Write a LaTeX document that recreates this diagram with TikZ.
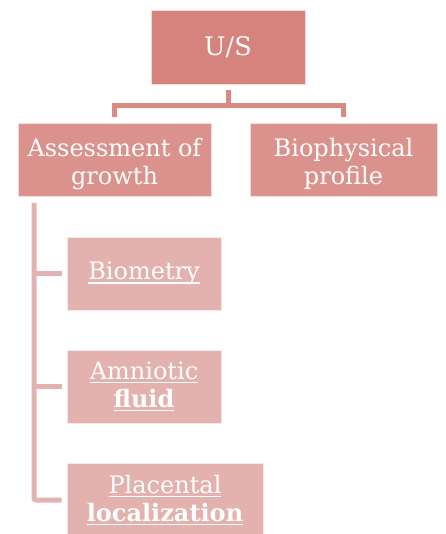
\documentclass[tikz,border=0pt]{standalone}
\usepackage{fontspec}
\setmainfont{DejaVu Serif}
\usetikzlibrary{calc}
\definecolor{topc}{HTML}{D5837C}
\definecolor{midc}{HTML}{DB928C}
\definecolor{lowc}{HTML}{E4B2AE}
\definecolor{conna}{HTML}{D98A84}
\definecolor{connb}{HTML}{E2B3B0}
\newcommand\myul[1]{\setbox0\hbox{#1}\rlap{\rule[-4pt]{\wd0}{1.6pt}}\box0}
\newcommand\upstrut{\rule{0pt}{27pt}}
\tikzset{
  box/.style={fill=#1, draw=white!70!#1, line width=0.8pt, text=white, align=center, inner sep=0pt,
    font=\fontsize{24}{28}\selectfont},
  conntop/.style={draw=conna, line width=5pt},
  connleft/.style={draw=connb, line width=5pt, rounded corners=2pt},
}
\begin{document}
\begin{tikzpicture}[x=1pt,y=-1pt]
\useasboundingbox (0,0) rectangle (445,534);
\node[box=topc, minimum width=154pt, minimum height=74pt, font=\fontsize{25.5}{29}\selectfont] (us) at (228,47) {U/S};
\node[box=midc, minimum width=193pt, minimum height=73pt] (ag) at (114.5,159.5) {\upstrut Assessment of\\growth};
\node[box=midc, minimum width=187pt, minimum height=73pt] (bp) at (343.5,159.5) {\upstrut Biophysical\\profile};
\node[box=lowc, minimum width=154pt, minimum height=73pt] (bio) at (144,273.5) {\myul{Biometry}};
\node[box=lowc, minimum width=154pt, minimum height=73pt] (amn) at (144,386.5) {\myul{Amniotic}\\\myul{\textbf{fluid}}};
\node[box=lowc, minimum width=196pt, minimum height=74pt] (pla) at (165,500) {\myul{Placental}\\\myul{\textbf{localization}}};
\coordinate (mid) at (228,106);
\coordinate (lt) at (34,203);
\draw[conntop] ([yshift=6pt]ag.north) |- (mid) -| ([yshift=6pt]bp.north);
\draw[conntop] ([yshift=-6pt]us.south) -- (mid);
\draw[connleft] (lt) |- ([xshift=-5pt]pla.west);
\draw[connleft] (lt |- bio.west) -- ([xshift=-5pt]bio.west);
\draw[connleft] (lt |- amn.west) -- ([xshift=-5pt]amn.west);
\end{tikzpicture}
\end{document}
